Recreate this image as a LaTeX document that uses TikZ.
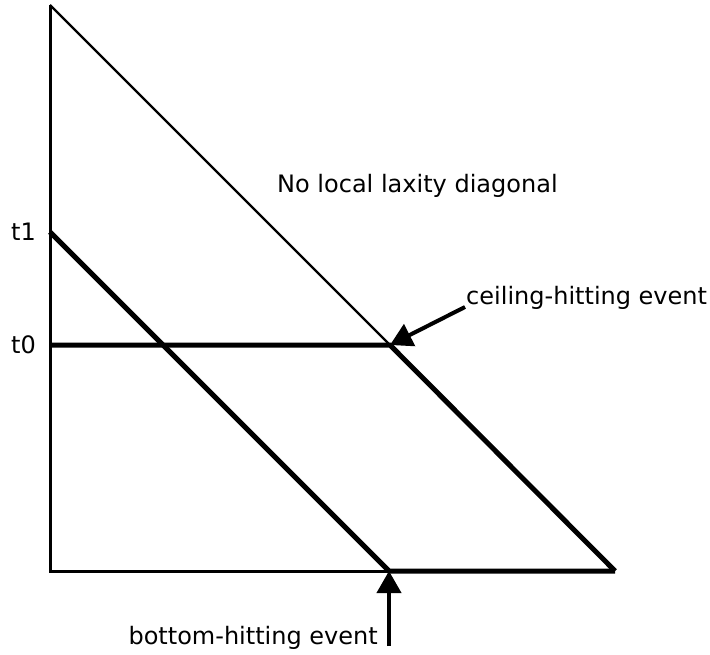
\documentclass[tikz,border=0pt]{standalone}
\usepackage{fontspec}
\setmainfont{DejaVu Sans}
\usetikzlibrary{arrows.meta}
\begin{document}
\begin{tikzpicture}[x=1pt,y=-1pt,
  axisline/.style={line width=3pt},
  thinline/.style={line width=2.2pt},
  thickline/.style={line width=5pt},
  evarrow/.style={line width=4pt,-{Triangle[length=22pt,width=24pt]}},
  lbl/.style={font=\fontsize{24}{28}\selectfont,inner sep=0pt}]
\useasboundingbox (0,0) rectangle (710,655);
\coordinate (top) at (50,5);
\coordinate (origin) at (50,571);
\coordinate (xend) at (615,571);
\coordinate (t1) at (50,232);
\coordinate (t0) at (50,345);
\coordinate (ceil) at (390,345);
\coordinate (bot) at (389,571);
\coordinate (ceiltail) at (465,307);
\coordinate (bottail) at (389,646);
\draw[axisline] (top) -- (origin) -- (xend);
\draw[thinline] (top) -- (ceil);
\draw[thickline] (t0) -- (ceil) -- (xend);
\draw[thickline] (t1) -- (bot) -- (xend);
\draw[evarrow] (ceiltail) -- (ceil);
\draw[evarrow] (bottail) -- (bot);
\node[lbl,anchor=east] (lt1) at (36,232) {t1};
\node[lbl,anchor=east] (lt0) at (36,345) {t0};
\node[lbl,anchor=west] (diag) at (277,186) {No local laxity diagonal};
\node[lbl,anchor=west] (ceillbl) at (466,298) {ceiling-hitting event};
\node[lbl,anchor=east] (botlbl) at (378,638) {bottom-hitting event};
\end{tikzpicture}
\end{document}
